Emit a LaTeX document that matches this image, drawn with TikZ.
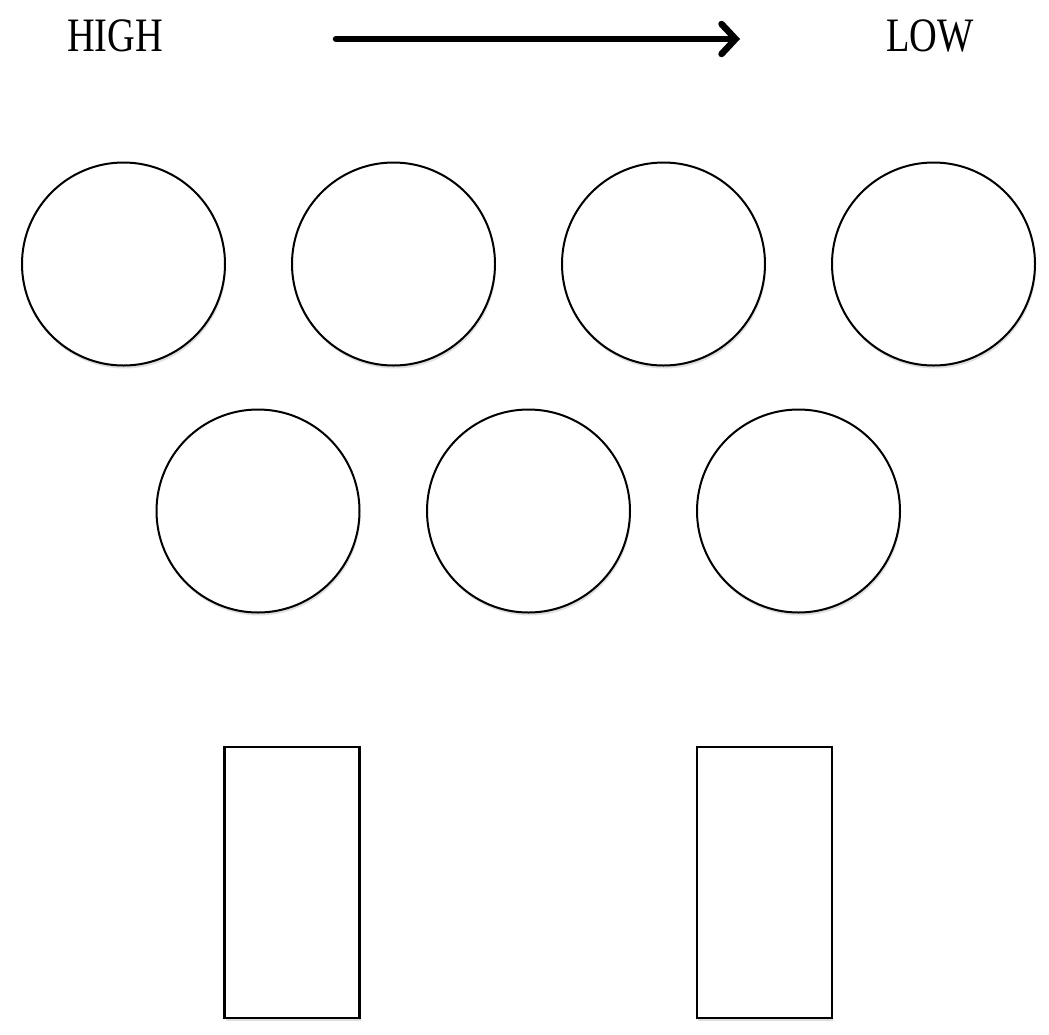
\documentclass[tikz,border=0pt]{standalone}
\usepackage{fontspec}
\setmainfont{Liberation Serif}
\usetikzlibrary{arrows.meta,shadows}
\begin{document}
\begin{tikzpicture}[x=1pt,y=-1pt,
  ball/.style={circle,draw=black,line width=2pt,fill=white,minimum size=203pt,inner sep=0pt,
    drop shadow={shadow xshift=1pt,shadow yshift=-3pt,opacity=0.25}},
  slab/.style={rectangle,draw=black,line width=2.5pt,fill=white,minimum width=135pt,minimum height=271pt,inner sep=0pt,
    drop shadow={shadow xshift=1pt,shadow yshift=-3pt,opacity=0.25}},
  lbl/.style={font=\fontsize{48}{48}\selectfont,inner sep=0pt,xscale=0.8}]
\useasboundingbox[fill=white] (0,0) rectangle (1049,1034);
\node[lbl] (high) at (115,36) {HIGH};
\node[lbl] (low) at (930,36) {LOW};
\coordinate (as) at (336,39);
\coordinate (ae) at (740,39);
\draw[line width=6.5pt,line cap=round,-{Straight Barb[length=14pt,width=30pt,line cap=round]}] (as) -- (ae);
\node[ball] (c1) at (123.5,264) {};
\node[ball] (c2) at (393.5,264) {};
\node[ball] (c3) at (663.5,264) {};
\node[ball] (c4) at (933.5,264) {};
\node[ball] (c5) at (258,511) {};
\node[ball] (c6) at (528.5,511) {};
\node[ball] (c7) at (798.5,511) {};
\node[slab] (r1) at (292,882.5) {};
\node[slab] (r2) at (764.5,882.5) {};
\end{tikzpicture}
\end{document}
